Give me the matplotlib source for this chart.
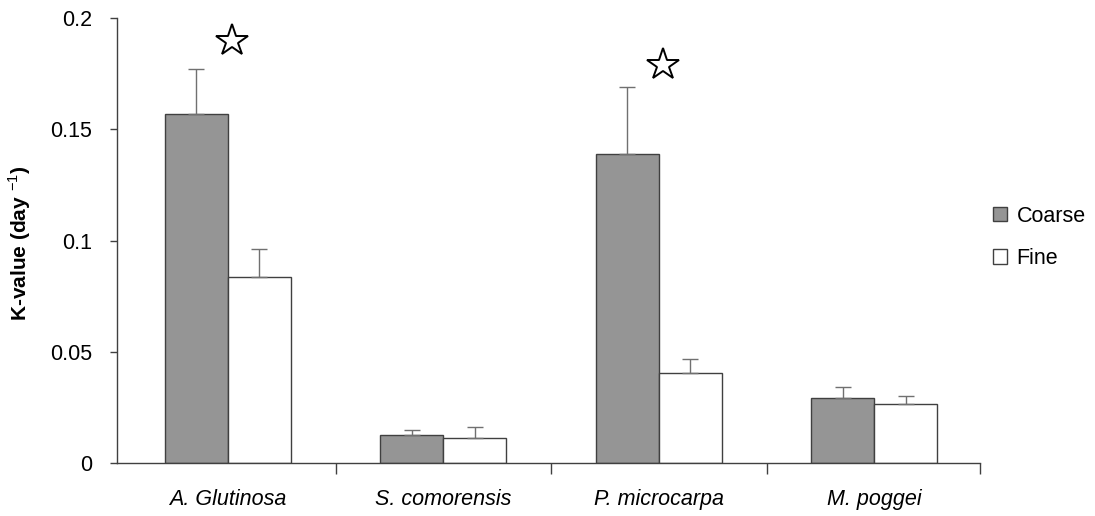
import matplotlib
matplotlib.use('Agg')
import matplotlib.pyplot as plt
import numpy as np
from matplotlib.patches import Patch
from matplotlib.ticker import FuncFormatter, FixedLocator

plt.rcParams['font.family'] = ['Liberation Sans', 'DejaVu Sans']
plt.rcParams['mathtext.fontset'] = 'custom'
plt.rcParams['mathtext.rm'] = 'Liberation Sans'

# data
species = ['A. Glutinosa', 'S. comorensis', 'P. microcarpa', 'M. poggei']
coarse = [0.157, 0.0125, 0.139, 0.029]
coarse_err = [0.020, 0.0025, 0.030, 0.005]
fine = [0.0836, 0.0112, 0.0405, 0.0265]
fine_err = [0.0126, 0.0048, 0.0062, 0.0038]
# significance stars (category index, height)
star_idx = [0, 2]
star_y = [0.1897, 0.179]

fig = plt.figure(figsize=(10.95, 5.16), dpi=100)
ax = fig.add_axes([0.1068, 0.1027, 0.788, 0.8624])

x = np.arange(len(species))
w = 0.292
edge = '#404040'
errkw = dict(ecolor='#707070', elinewidth=1.0, capsize=5.5, capthick=1.0)

ax.bar(x - w / 2, coarse, w, color='#959595', edgecolor=edge, linewidth=1.0,
       yerr=[np.zeros(len(coarse)), coarse_err], error_kw=errkw, zorder=2)
ax.bar(x + w / 2, fine, w, color='white', edgecolor=edge, linewidth=1.0,
       yerr=[np.zeros(len(fine)), fine_err], error_kw=errkw, zorder=2)

ax.plot(np.array(star_idx) + 0.02, star_y, linestyle='none', marker='*',
        markersize=24, markerfacecolor='white', markeredgecolor='black',
        markeredgewidth=1.4, zorder=3)

ax.set_xlim(-0.515, 3.49)
ax.set_ylim(0, 0.2)
ax.set_yticks([0, 0.05, 0.1, 0.15, 0.2])
ax.yaxis.set_major_formatter(FuncFormatter(lambda v, p: '{:g}'.format(round(v, 3))))

ax.set_xticks(x)
ax.set_xticklabels(species, fontstyle='italic', fontsize=15.5)
ax.tick_params(axis='x', which='major', length=0, pad=19)
ax.xaxis.set_minor_locator(FixedLocator([0.5, 1.5, 2.5, 3.49]))
ax.tick_params(axis='x', which='minor', length=8, width=1, color=edge)
ax.tick_params(axis='y', length=5, width=1, color=edge, labelsize=15.5, pad=13)

for s in ['top', 'right']:
    ax.spines[s].set_visible(False)
for s in ['left', 'bottom']:
    ax.spines[s].set_color(edge)
    ax.spines[s].set_linewidth(1.0)

ax.set_ylabel(r'K-value (day $^{-1}$)', fontsize=15, fontweight='bold')
ax.yaxis.set_label_coords(-0.097, 0.494)

handles = [Patch(facecolor='#959595', edgecolor=edge, label='Coarse'),
           Patch(facecolor='white', edgecolor=edge, label='Fine')]
fig.legend(handles=handles, loc='center left', bbox_to_anchor=(0.889, 0.54),
           frameon=False, fontsize=15.5, handlelength=0.65, handleheight=0.65,
           handletextpad=0.45, labelspacing=1.0)

fig.savefig('out.png', dpi=100)
